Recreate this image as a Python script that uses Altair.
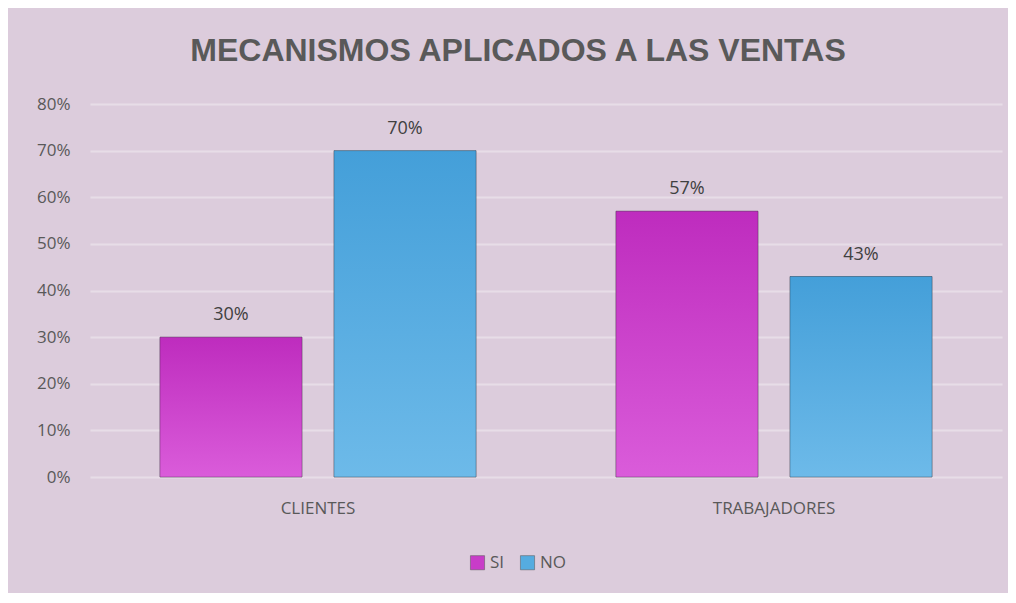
import altair as alt
import pandas as pd

categories = ["CLIENTES", "TRABAJADORES"]
series = ["SI", "NO"]
si_values = [0.30, 0.57]
no_values = [0.70, 0.43]
colors = ["#C83CC8", "#55ACE0"]

rows = []
for i, c in enumerate(categories):
    rows.append({"cat": c, "serie": "SI", "val": si_values[i]})
    rows.append({"cat": c, "serie": "NO", "val": no_values[i]})
df = pd.DataFrame(rows)

FONT = "Open Sans"

x = alt.X("cat:N", sort=categories, title=None,
          scale=alt.Scale(paddingInner=0, paddingOuter=0),
          axis=alt.Axis(labelAngle=0, domain=False, ticks=False, labelPadding=23,
                        labelFont=FONT, labelFontSize=17, labelColor="#595959",
                        grid=False))
xo = alt.XOffset("serie:N", sort=series,
                 scale=alt.Scale(paddingInner=0.184, paddingOuter=0.402))
y = alt.Y("val:Q", title=None,
          scale=alt.Scale(domain=[0, 0.8], nice=False),
          axis=alt.Axis(format=".0%", values=[0, .1, .2, .3, .4, .5, .6, .7, .8],
                        domain=False, ticks=False, labelPadding=20,
                        labelFont=FONT, labelFontSize=17, labelColor="#595959",
                        gridColor="#E7DDE7", gridWidth=2))

base = alt.Chart(df)

bars = base.mark_bar(stroke="#5a5a6a", strokeWidth=0.6, strokeOpacity=0.6).encode(
    x=x, xOffset=xo, y=y,
    color=alt.Color("serie:N", sort=series,
                    scale=alt.Scale(domain=series, range=colors),
                    legend=alt.Legend(title=None, orient="none", direction="horizontal",
                                      legendX=379, legendY=450,
                                      symbolType="square", symbolSize=200,
                                      symbolStrokeWidth=0.5, symbolStrokeColor="#555",
                                      labelFont=FONT, labelFontSize=17,
                                      labelColor="#595959", columnPadding=14,
                                      labelOffset=4)),
)

grad_si = base.transform_filter(alt.datum.serie == "SI").mark_bar(
    fill=alt.Gradient(gradient="linear", x1=0, x2=0, y1=0, y2=1,
                      stops=[alt.GradientStop(color="#BE2CBE", offset=0),
                             alt.GradientStop(color="#DA5CDA", offset=1)]),
    stroke="#4a2a4a", strokeWidth=0.6, strokeOpacity=0.6,
).encode(x=x, xOffset=xo, y=y)

grad_no = base.transform_filter(alt.datum.serie == "NO").mark_bar(
    fill=alt.Gradient(gradient="linear", x1=0, x2=0, y1=0, y2=1,
                      stops=[alt.GradientStop(color="#449FD9", offset=0),
                             alt.GradientStop(color="#6DBAE9", offset=1)]),
    stroke="#2a3a4a", strokeWidth=0.6, strokeOpacity=0.6,
).encode(x=x, xOffset=xo, y=y)

labels = base.mark_text(dy=-13, baseline="bottom", font=FONT, fontSize=18,
                        color="#404040").encode(
    x=x, xOffset=xo, y=y, text=alt.Text("val:Q", format=".0%"))

chart = alt.layer(bars, grad_si, grad_no, labels).properties(
    width=912, height=373,
    autosize=alt.AutoSizeParams(type="none"),
    padding={"left": 82, "top": 96, "right": 6, "bottom": 116},
    background="#DCCCDC",
    title=alt.TitleParams("MECANISMOS APLICADOS A LAS VENTAS", font="Liberation Sans",
                          fontSize=32, fontWeight="bold", color="#595959",
                          anchor="middle", dx=-28, offset=27),
).configure_view(stroke=None)

chart.save("out.html", embed_options={"renderer": "svg", "actions": False})
